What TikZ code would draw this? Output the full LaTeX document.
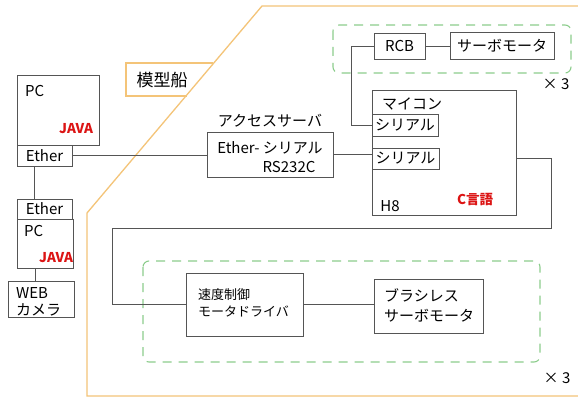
\documentclass[tikz,border=0pt]{standalone}
\usepackage{fontspec}
\setmainfont{Noto Sans CJK JP}
\definecolor{boxgray}{RGB}{85,85,85}
\definecolor{shiporange}{RGB}{244,196,120}
\definecolor{dashgreen}{RGB}{140,205,140}
\definecolor{javared}{RGB}{220,20,20}
\tikzset{
  box/.style={draw=boxgray, line width=0.9pt, fill=white, inner sep=0pt, minimum width=#1},
  box/.default=10pt,
  conn/.style={draw=boxgray, line width=0.9pt},
  lbl/.style={inner sep=0pt, font=\fontsize{15}{17}\selectfont},
  small/.style={inner sep=0pt, font=\fontsize{13}{15}\selectfont},
  redlbl/.style={inner sep=0pt, text=javared, font=\fontsize{13.5}{15}\selectfont\bfseries},
  grp/.style={draw=dashgreen, line width=1.1pt, dash pattern=on 9pt off 7pt, rounded corners=6pt},
  ship/.style={draw=shiporange, line width=1.3pt}
}
\begin{document}
\begin{tikzpicture}[x=1pt,y=-1pt]
\useasboundingbox[fill=white] (0,0) rectangle (578,398);
% model ship outline
\draw[ship] (580,6) -- (262,6) -- (87,213) -- (87,396) -- (580,396);
\draw[ship] (213,63) -- (126,63) -- (126,96) -- (187,96);
\node[lbl, font=\fontsize{17}{19}\selectfont] (shiplbl) at (162,80) {模型船};

% green groups
\draw[grp] (333,25) rectangle (571,73);
\draw[grp] (143,261) rectangle (540,362);
\node[lbl] (x3a) at (556,84) {× 3};
\node[lbl] (x3b) at (557,378) {× 3};

% PC 1
\node[box, minimum width=82pt, minimum height=70pt] (pc1) at (58,110) {};
\node[lbl, anchor=west] (pc1t) at (25,91) {PC};
\node[redlbl] (java1) at (76,129) {JAVA};
\node[box, minimum width=55pt, minimum height=21pt] (eth1) at (44.5,155.5) {};
\node[lbl] (eth1t) at (eth1) {Ether};

% PC 2
\node[box, minimum width=55pt, minimum height=20pt] (eth2) at (44.5,209) {};
\node[lbl] (eth2t) at (eth2) {Ether};
\node[box, minimum width=56pt, minimum height=49pt] (pc2) at (45,243.5) {};
\node[lbl, anchor=west] (pc2t) at (24,231) {PC};
\node[redlbl] (java2) at (56,258) {JAVA};

% camera
\node[box, minimum width=66pt, minimum height=36pt] (cam) at (41,299) {};
\node[lbl, anchor=west] (camt1) at (16,293) {WEB};
\node[lbl, anchor=west] (camt2) at (16,310) {カメラ};

% access server
\node[box, minimum width=126pt, minimum height=45pt] (acc) at (270,154.5) {};
\node[lbl] (acclbl) at (270,121) {アクセスサーバ};
\node[lbl] (acct1) at (270,148) {Ether- シリアル};
\node[lbl] (acct2) at (289,167) {RS232C};

% micro controller
\node[box, minimum width=144pt, minimum height=125pt] (mcu) at (444,152.5) {};
\node[lbl] (mcut) at (412,104) {マイコン};
\node[box, minimum width=66pt, minimum height=22pt] (ser1) at (405,125) {};
\node[lbl] (ser1t) at (ser1) {シリアル};
\node[box, minimum width=67pt, minimum height=21pt] (ser2) at (405.5,158.5) {};
\node[lbl] (ser2t) at (ser2) {シリアル};
\node[lbl] (h8) at (390,206) {H8};
\node[redlbl] (clang) at (475,200) {C言語};

% RCB / servo
\node[box, minimum width=51pt, minimum height=26pt] (rcb) at (399.5,46) {};
\node[lbl] (rcbt) at (rcb) {RCB};
\node[box, minimum width=104pt, minimum height=27pt] (servo) at (502,46) {};
\node[lbl] (servot) at (servo) {サーボモータ};

% driver / brushless
\node[box, minimum width=117pt, minimum height=63pt] (drv) at (244.5,304.5) {};
\node[small, anchor=west] (drvt1) at (198,295) {速度制御};
\node[small, anchor=west] (drvt2) at (198,311) {モータドライバ};
\node[box, minimum width=109pt, minimum height=54pt] (bl) at (428.5,306) {};
\node[lbl, anchor=west] (blt1) at (384,295) {ブラシレス};
\node[lbl, anchor=west] (blt2) at (384,316) {サーボモータ};

% connectors
\coordinate (rt) at (551,228);
\coordinate (lt) at (112,228);
\draw[conn] (eth1.east) -- (eth1.east -| acc.west);
\draw[conn] ([xshift=-10pt]eth1.south) -- ([xshift=-10pt]eth2.north);
\draw[conn] ([xshift=-10pt]pc2.south) -- ([xshift=-10pt]pc2.south |- cam.north);
\draw[conn] (acc.east) -- (acc.east -| ser2.west);
\draw[conn] (ser1.west) -- ++(-20,0) |- (rcb.west);
\draw[conn] (rcb.east) -- (servo.west);
\draw[conn] ([yshift=-6pt]mcu.east) -| (rt) -- (lt) |- (drv.west);
\draw[conn] (drv.east) -- (drv.east -| bl.west);
\end{tikzpicture}
\end{document}
